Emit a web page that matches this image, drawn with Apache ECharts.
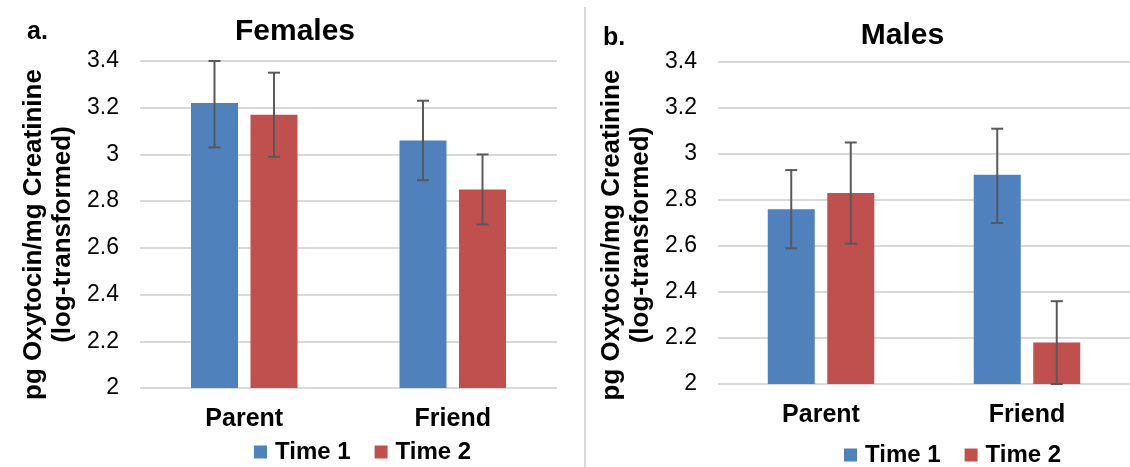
<!DOCTYPE html>
<html>
<head>
<meta charset="utf-8">
<script src="https://cdn.jsdelivr.net/npm/echarts@6/dist/echarts.min.js"></script>
<style>
html,body{margin:0;padding:0;background:#fff;}
#chart{width:1130px;height:467px;}
</style>
</head>
<body>
<div id="chart"></div>
<script>
// ---- data ----
const categories = ['Parent', 'Friend'];
const seriesNames = ['Time 1', 'Time 2'];
const yTicks = { min: 2, max: 3.4, interval: 0.2 };

const femalesTime1 = [3.22, 3.06];
const femalesTime2 = [3.17, 2.85];
const femalesTime1Low = [3.03, 2.89];
const femalesTime1High = [3.40, 3.23];
const femalesTime2Low = [2.99, 2.70];
const femalesTime2High = [3.35, 3.00];

const malesTime1 = [2.76, 2.91];
const malesTime2 = [2.83, 2.18];
const malesTime1Low = [2.59, 2.70];
const malesTime1High = [2.93, 3.11];
const malesTime2Low = [2.61, 2.00];
const malesTime2High = [3.05, 2.36];

const panelTitles = ['Females', 'Males'];
const panelLetters = ['a.', 'b.'];
const yName1 = 'pg Oxytocin/mg Creatinine';
const yName2 = '(log-transformed)';

// ---- styles ----
const FONT = '"Liberation Sans", Arial, sans-serif';
const BLUE = '#4f81bd';
const RED = '#c0504d';
const GRIDC = '#d9d9d9';
const ERRC = '#595959';
const BAR_W = 47;
const BAR_GAP = 12.5;
const CAP = 12;

const chart = echarts.init(document.getElementById('chart'));

function errSeries(gridIdx, lows, highs, side) {
  const data = categories.map((c, i) => [i, lows[i], highs[i]]);
  return {
    type: 'custom',
    xAxisIndex: gridIdx,
    yAxisIndex: gridIdx,
    z: 5,
    silent: true,
    encode: { x: 0, y: [1, 2] },
    data: data,
    renderItem: function (params, api) {
      const ci = api.value(0);
      const top = api.coord([ci, api.value(2)]);
      const bot = api.coord([ci, api.value(1)]);
      const x = top[0] + side * (BAR_W + BAR_GAP) / 2;
      const st = { stroke: ERRC, lineWidth: 2 };
      return {
        type: 'group',
        children: [
          { type: 'line', shape: { x1: x, y1: top[1], x2: x, y2: bot[1] }, style: st },
          { type: 'line', shape: { x1: x - CAP / 2, y1: top[1], x2: x + CAP / 2, y2: top[1] }, style: st },
          { type: 'line', shape: { x1: x - CAP / 2, y1: bot[1], x2: x + CAP / 2, y2: bot[1] }, style: st }
        ]
      };
    }
  };
}

function xAxisDef(gridIdx) {
  return {
    type: 'category',
    gridIndex: gridIdx,
    data: categories,
    axisLine: { show: false },
    axisTick: { show: false },
    axisLabel: { fontFamily: FONT, fontSize: 25, fontWeight: 'bold', color: '#000', margin: 19 }
  };
}
function yAxisDef(gridIdx) {
  return {
    type: 'value',
    gridIndex: gridIdx,
    min: yTicks.min, max: yTicks.max, interval: yTicks.interval,
    axisLine: { show: false },
    axisTick: { show: false },
    axisLabel: { fontFamily: FONT, fontSize: 23, color: '#000', margin: 21 },
    splitLine: { show: true, lineStyle: { color: GRIDC, width: 2 } }
  };
}
function barDef(gridIdx, name, data, color) {
  return {
    type: 'bar', name: name, xAxisIndex: gridIdx, yAxisIndex: gridIdx,
    data: data, barWidth: BAR_W, barGap: (BAR_GAP / BAR_W * 100) + '%',
    itemStyle: { color: color }, silent: true
  };
}
function txt(x, y, text, size, weight, align, rot) {
  return {
    type: 'text', x: x, y: y, rotation: rot || 0, silent: true,
    style: {
      text: text, fill: '#000',
      font: weight + ' ' + size + 'px ' + FONT,
      align: align, textAlign: align,
      verticalAlign: 'middle', textVerticalAlign: 'middle'
    }
  };
}
function legendDef(left, top) {
  return {
    left: left, top: top,
    data: seriesNames,
    icon: 'rect', itemWidth: 13, itemHeight: 13, itemGap: 24,
    selectedMode: false,
    textStyle: { fontFamily: FONT, fontSize: 24, fontWeight: 'bold', color: '#000', padding: [0, 0, 0, 3] }
  };
}

const option = {
  animation: false,
  backgroundColor: '#fff',
  grid: [
    { left: 140, top: 61, width: 417, height: 327 },
    { left: 718, top: 62, width: 423, height: 322 }
  ],
  xAxis: [xAxisDef(0), xAxisDef(1)],
  yAxis: [yAxisDef(0), yAxisDef(1)],
  legend: [legendDef(249, 435), legendDef(839, 438)],
  series: [
    barDef(0, seriesNames[0], femalesTime1, BLUE),
    barDef(0, seriesNames[1], femalesTime2, RED),
    barDef(1, seriesNames[0], malesTime1, BLUE),
    barDef(1, seriesNames[1], malesTime2, RED),
    errSeries(0, femalesTime1Low, femalesTime1High, -1),
    errSeries(0, femalesTime2Low, femalesTime2High, 1),
    errSeries(1, malesTime1Low, malesTime1High, -1),
    errSeries(1, malesTime2Low, malesTime2High, 1)
  ],
  graphic: [
    { type: 'line', silent: true, shape: { x1: 585, y1: 7, x2: 585, y2: 467 }, style: { stroke: GRIDC, lineWidth: 2 } },
    txt(27, 32, panelLetters[0], 25, 'bold', 'left'),
    txt(603, 38.5, panelLetters[1], 25, 'bold', 'left'),
    txt(295, 31.5, panelTitles[0], 30, 'bold', 'center'),
    txt(902.5, 36, panelTitles[1], 30, 'bold', 'center'),
    txt(34, 234.5, yName1, 26, 'bold', 'center', Math.PI / 2),
    txt(63, 234.5, yName2, 26, 'bold', 'center', Math.PI / 2),
    txt(612, 235, yName1, 26, 'bold', 'center', Math.PI / 2),
    txt(641, 235, yName2, 26, 'bold', 'center', Math.PI / 2)
  ]
};
chart.setOption(option);
</script>
</body>
</html>
